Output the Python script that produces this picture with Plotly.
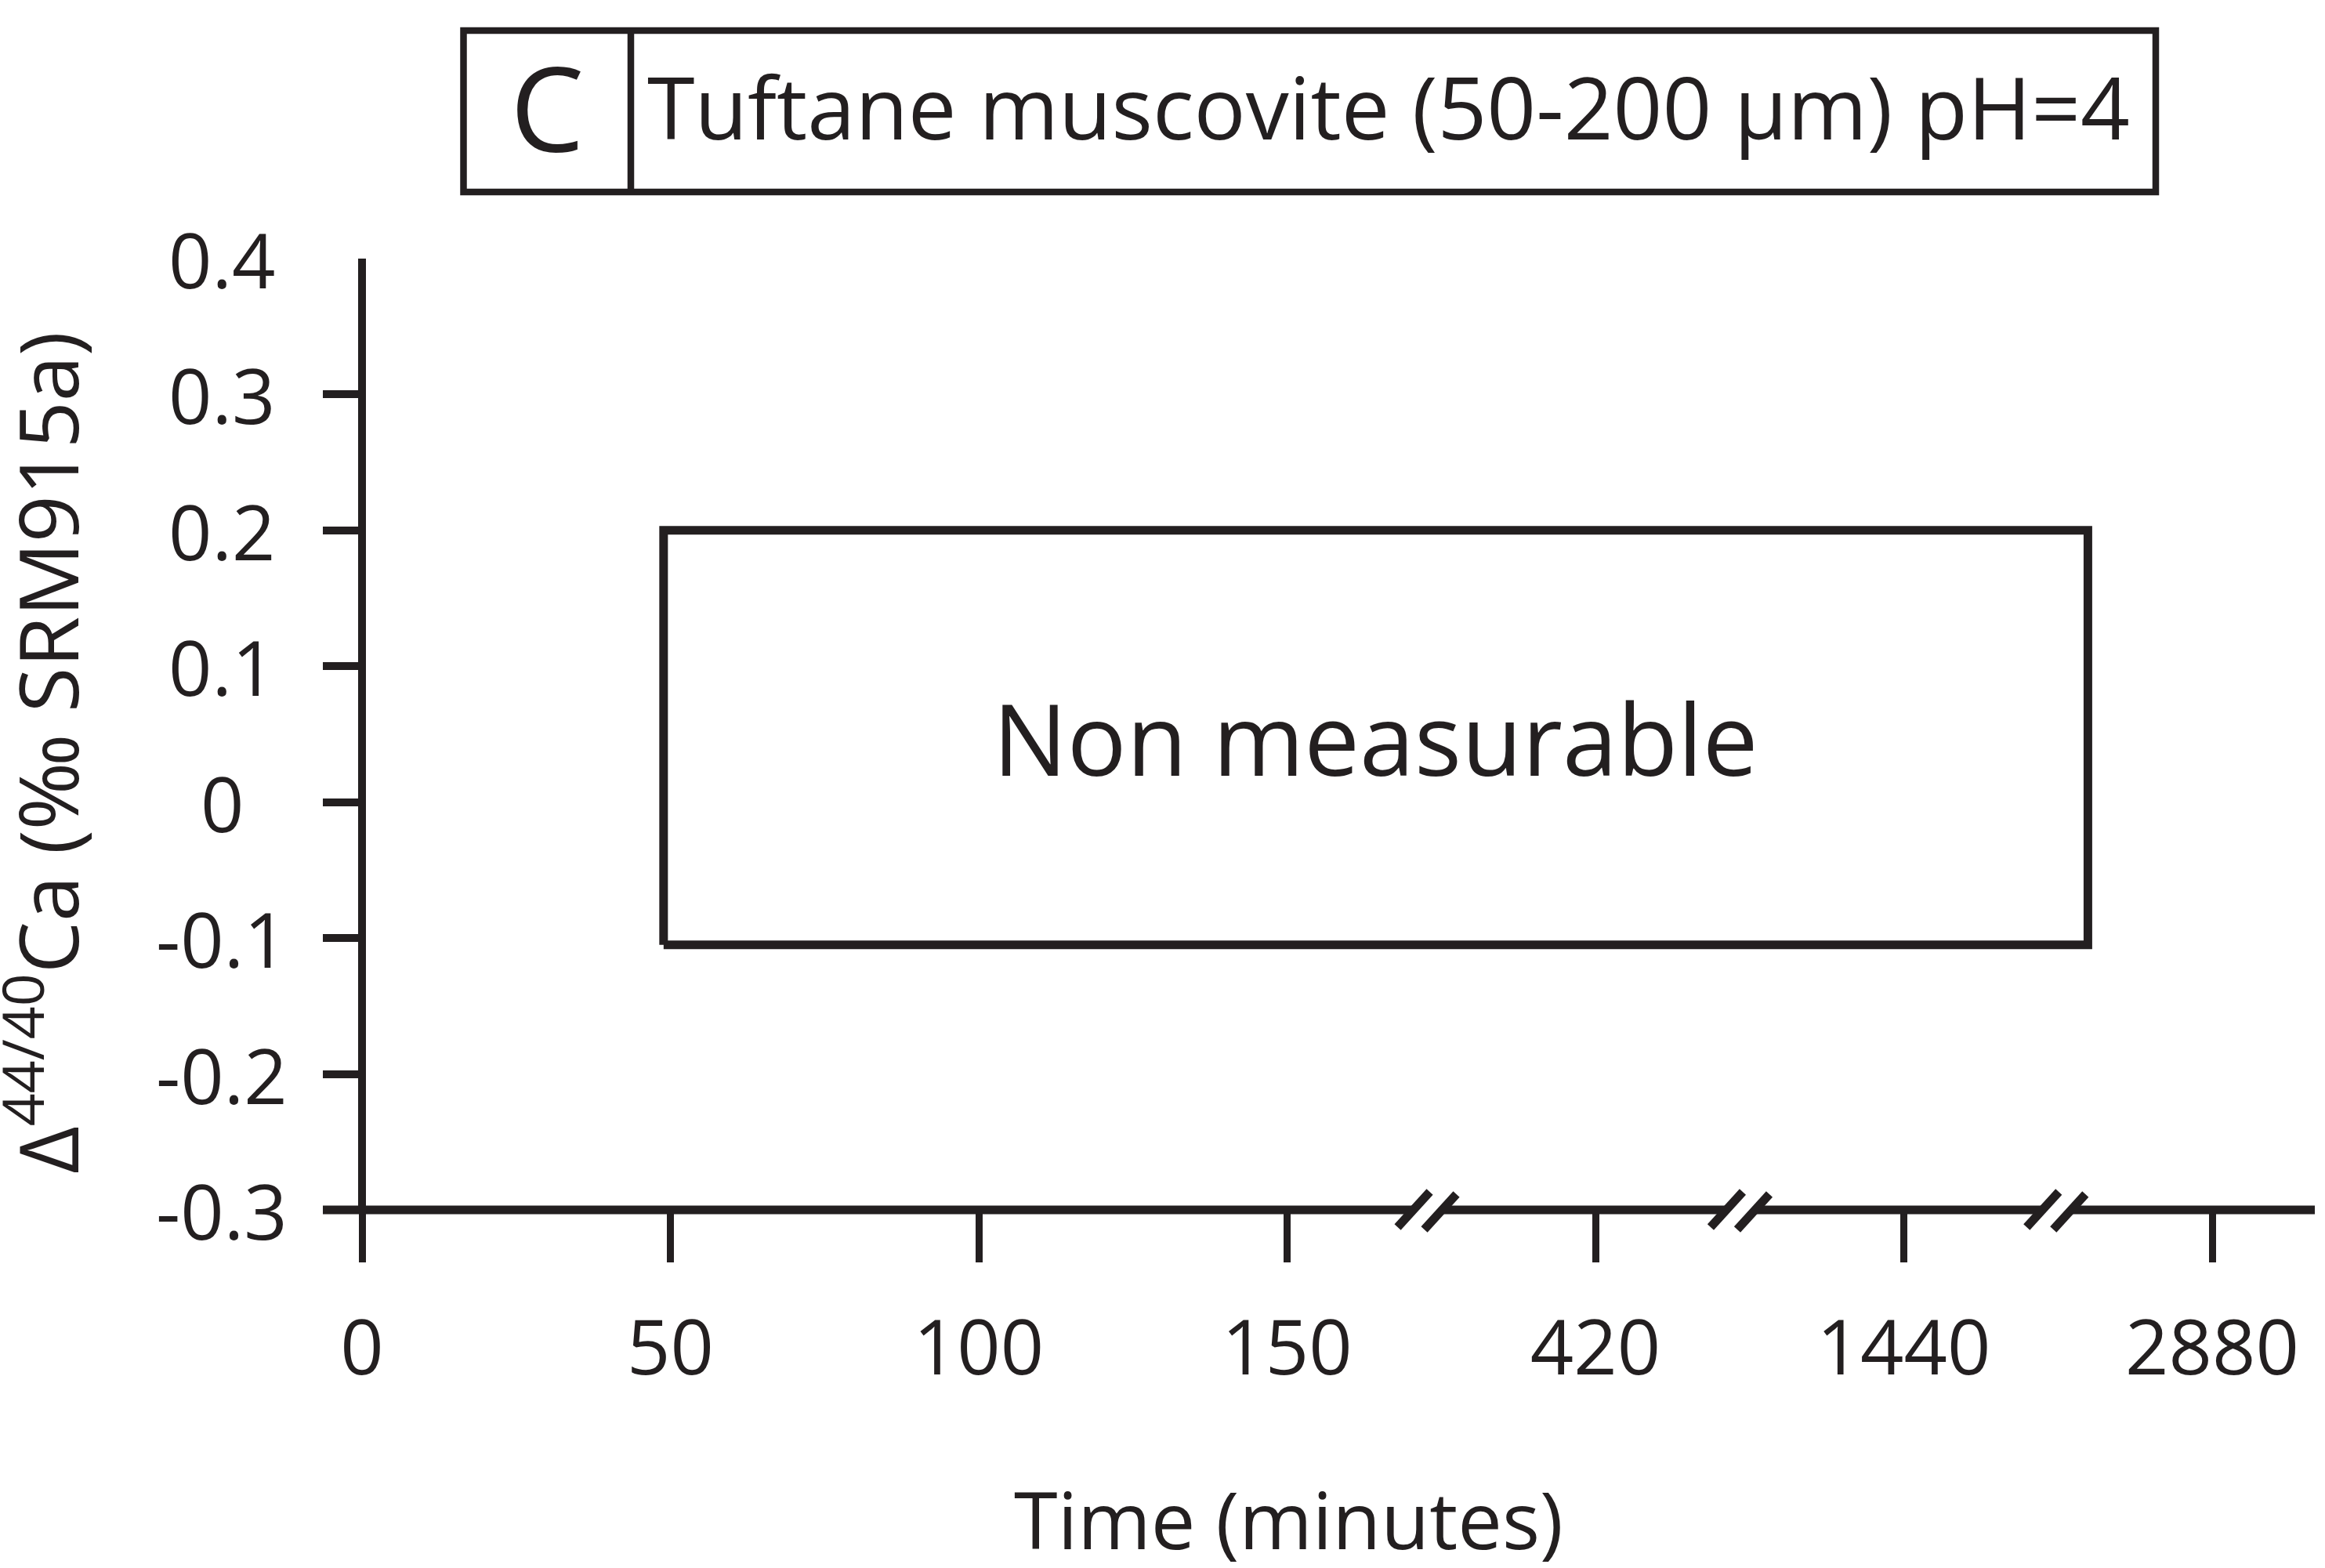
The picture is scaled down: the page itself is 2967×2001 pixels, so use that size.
import plotly.graph_objects as go

# ---------------- data ----------------
x_tick_labels = ["0", "50", "100", "150", "420", "1440", "2880"]   # time (minutes), broken axis
x_tick_pos = [0, 1, 2, 3, 4, 5, 6]
y_tick_vals = [0.4, 0.3, 0.2, 0.1, 0, -0.1, -0.2, -0.3]
y_tick_text = ["0.4", "0.3", "0.2", "0.1", "0", "-0.1", "-0.2", "-0.3"]
box_x = [0.978, 5.597]          # extent of the "Non measurable" frame (axis units)
box_y = [-0.105, 0.2]
break_pos = [3.455, 4.47, 5.495]  # axis-break marks
panel_letter = "C"
panel_title = "Tuftane muscovite (50-200 µm) pH=4"
box_label = "Non measurable"
x_title = "Time (minutes)"
y_title = "Δ<sup>44/40</sup>Ca (‰ SRM915a)"

# ---------------- layout constants ----------------
W, H = 2967, 2001
ML, MR, MT, MB = 412, 13, 330, 457
PW = W - ML - MR
PH = H - MT - MB
UNIT = 393.5
X_RANGE = [-(462 - ML) / UNIT, -(462 - ML) / UNIT + PW / UNIT]
Y_RANGE = [-0.3, 0.4]
INK = "#231f20"
FONT = "Open Sans"


def pxx(px):
    return (px - ML) / PW


def pxy(py):
    return (H - MB - py) / PH


fig = go.Figure()

# frame of the non-measurable region
fig.add_trace(go.Scatter(
    x=[box_x[0], box_x[1], box_x[1], box_x[0], box_x[0]],
    y=[box_y[0], box_y[0], box_y[1], box_y[1], box_y[0]],
    mode="lines", line=dict(color=INK, width=11),
    hoverinfo="skip", showlegend=False,
))

shapes = []
# x axis line
shapes.append(dict(type="line", xref="paper", yref="paper", x0=0, x1=1, y0=0, y1=0,
                   line=dict(color=INK, width=11), layer="above"))
# y axis line at x = 0
shapes.append(dict(type="line", xref="x", yref="y", x0=0, x1=0, y0=Y_RANGE[0], y1=Y_RANGE[1],
                   line=dict(color=INK, width=10), layer="above"))
# axis breaks
for b in break_pos:
    common = dict(xref="x", yref="paper", xsizemode="pixel", ysizemode="pixel",
                  xanchor=b, yanchor=0, layer="above")
    shapes.append(dict(type="line", x0=-18, x1=18, y0=0, y1=0,
                       line=dict(color="white", width=16), **common))
    shapes.append(dict(type="line", x0=-38, y0=-22, x1=3, y1=23,
                       line=dict(color=INK, width=11), **common))
    shapes.append(dict(type="line", x0=-4, y0=-25, x1=37, y1=20,
                       line=dict(color=INK, width=11), **common))
# title box
shapes.append(dict(type="rect", xref="paper", yref="paper",
                   x0=pxx(591.5), x1=pxx(2751), y0=pxy(245), y1=pxy(39),
                   line=dict(color=INK, width=8.5), layer="above"))
shapes.append(dict(type="line", xref="paper", yref="paper",
                   x0=pxx(805), x1=pxx(805), y0=pxy(245), y1=pxy(39),
                   line=dict(color=INK, width=8.5), layer="above"))

annotations = []
annotations.append(dict(text=panel_letter, xref="paper", yref="paper", x=pxx(698), y=pxy(136),
                        xanchor="center", yanchor="middle", showarrow=False,
                        font=dict(family=FONT, size=150, color=INK)))
annotations.append(dict(text=panel_title, xref="paper", yref="paper", x=pxx(824), y=pxy(135),
                        xanchor="left", yanchor="middle", showarrow=False,
                        font=dict(family=FONT, size=110, color=INK)))
annotations.append(dict(text=box_label, xref="x", yref="y",
                        x=(box_x[0] + box_x[1]) / 2, y=(box_y[0] + box_y[1]) / 2,
                        xanchor="center", yanchor="middle", showarrow=False,
                        font=dict(family=FONT, size=126, color=INK)))
for v, t in zip(y_tick_vals, y_tick_text):
    annotations.append(dict(text=t, xref="x", yref="y", x=0, y=v, xshift=-179,
                            xanchor="center", yanchor="middle", showarrow=False,
                            font=dict(family=FONT, size=97, color=INK)))
annotations.append(dict(text=y_title, xref="paper", yref="paper", x=pxx(54), y=pxy(961),
                        xanchor="center", yanchor="middle", textangle=-90, showarrow=False,
                        font=dict(family=FONT, size=105, color=INK)))
annotations.append(dict(text=x_title, xref="paper", yref="paper", x=pxx(1644), y=pxy(1938),
                        xanchor="center", yanchor="middle", showarrow=False,
                        font=dict(family=FONT, size=101, color=INK)))

fig.update_layout(
    width=W, height=H,
    margin=dict(l=ML, r=MR, t=MT, b=MB, pad=0),
    paper_bgcolor="white", plot_bgcolor="white",
    font=dict(family=FONT, color=INK),
    showlegend=False,
    shapes=shapes,
    annotations=annotations,
    xaxis=dict(range=X_RANGE, tickmode="array", tickvals=x_tick_pos, ticktext=x_tick_labels,
               ticks="outside", ticklen=66, tickwidth=9, tickcolor=INK,
               showline=False, showgrid=False, zeroline=False,
               tickfont=dict(family=FONT, size=97, color=INK), ticklabelstandoff=27,
               automargin=False, fixedrange=True),
    yaxis=dict(range=Y_RANGE, tickmode="array", tickvals=y_tick_vals,
               ticks="inside", ticklen=50, tickwidth=10, tickcolor=INK,
               showticklabels=False, showline=False, showgrid=False, zeroline=False,
               automargin=False, fixedrange=True),
)

fig.write_html("out.html")
